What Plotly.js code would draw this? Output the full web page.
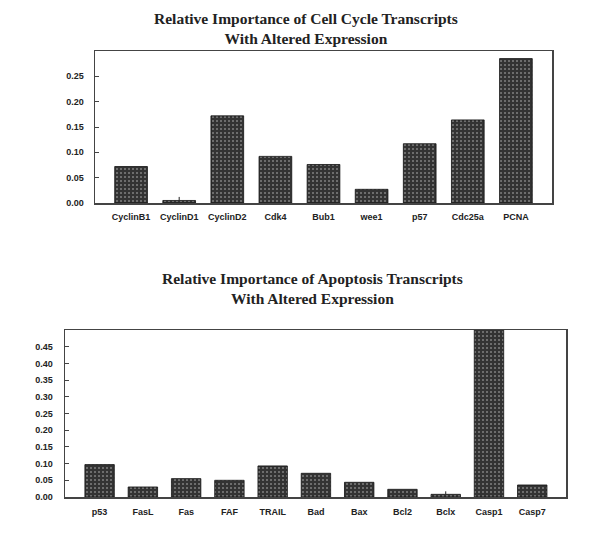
<!DOCTYPE html>
<html>
<head>
<meta charset="utf-8">
<script src="https://cdn.plot.ly/plotly-3.0.1.min.js"></script>
<style>html,body{margin:0;padding:0;background:#fff;}#chart{width:600px;height:548px;}</style>
</head>
<body>
<div id="chart"></div>
<script>
// Cell cycle transcripts
var cellCycleGenes = ["CyclinB1","CyclinD1","CyclinD2","Cdk4","Bub1","wee1","p57","Cdc25a","PCNA"];
var cellCycleValues = [0.072, 0.005, 0.172, 0.092, 0.076, 0.027, 0.117, 0.164, 0.285];
var cellCycleErr = [0, 0.007, 0, 0, 0, 0, 0, 0, 0];

// Apoptosis transcripts
var apoptosisGenes = ["p53","FasL","Fas","FAF","TRAIL","Bad","Bax","Bcl2","Bclx","Casp1","Casp7"];
var apoptosisValues = [0.097, 0.030, 0.055, 0.050, 0.093, 0.071, 0.044, 0.023, 0.008, 0.52, 0.036];
var apoptosisErr = [0, 0, 0, 0, 0, 0, 0, 0, 0.009, 0, 0];

var titleTop = "Relative Importance of Cell Cycle Transcripts<br>With Altered Expression";
var titleBottom = "Relative Importance of Apoptosis Transcripts<br>With Altered Expression";

var cellTicks = [0, 0.05, 0.10, 0.15, 0.20, 0.25];
var apopTicks = [0, 0.05, 0.10, 0.15, 0.20, 0.25, 0.30, 0.35, 0.40, 0.45];

var barMarker = {
  color: '#333',
  line: {color: '#111', width: 0.8},
  pattern: {shape: '.', bgcolor: '#333', fgcolor: '#808080', size: 4, solidity: 0.2, fillmode: 'replace'}
};

var traces = [
  {type: 'bar', x: cellCycleGenes, y: cellCycleValues, width: 0.68, marker: barMarker,
   error_y: {type: 'data', array: cellCycleErr, arrayminus: cellCycleErr.map(function(){return 0;}), symmetric: false, width: 0, thickness: 1, color: '#222'},
   xaxis: 'x', yaxis: 'y', hoverinfo: 'x+y', cliponaxis: true},
  {type: 'bar', x: apoptosisGenes, y: apoptosisValues, width: 0.68, marker: barMarker,
   error_y: {type: 'data', array: apoptosisErr, arrayminus: apoptosisErr.map(function(){return 0;}), symmetric: false, width: 0, thickness: 1, color: '#222'},
   xaxis: 'x2', yaxis: 'y2', hoverinfo: 'x+y', cliponaxis: true}
];

var tickFont = {family: 'Liberation Sans, Arial, sans-serif', size: 9, color: '#222', weight: 'bold'};
var titleFont = {family: 'Liberation Serif, Times New Roman, serif', size: 15.5, color: '#222', weight: 'bold'};

var layout = {
  width: 600, height: 548,
  margin: {l: 0, r: 0, t: 0, b: 0},
  paper_bgcolor: '#fff', plot_bgcolor: '#fff',
  showlegend: false,
  bargap: 0.3,
  xaxis: {domain: [95/600, 552/600], anchor: 'y', range: [-0.75, 8.75], showline: true, mirror: true,
          linecolor: '#444', linewidth: 1.5, ticks: '', showgrid: false, zeroline: false,
          tickfont: tickFont, ticklabelstandoff: 5},
  yaxis: {domain: [1 - 203/548, 1 - 51/548], anchor: 'x', range: [0, 0.30], showline: true, mirror: true,
          linecolor: '#444', linewidth: 1.5, ticks: 'inside', ticklen: 4, tickcolor: '#444',
          tickvals: cellTicks, tickformat: '.2f', showgrid: false, zeroline: false,
          tickfont: tickFont, ticklabelstandoff: 8},
  xaxis2: {domain: [65/600, 566/600], anchor: 'y2', range: [-0.8, 10.78], showline: true, mirror: true,
           linecolor: '#444', linewidth: 1.5, ticks: '', showgrid: false, zeroline: false,
           tickfont: tickFont, ticklabelstandoff: 6},
  yaxis2: {domain: [1 - 497/548, 1 - 330/548], anchor: 'x2', range: [0, 0.50], showline: true, mirror: true,
           linecolor: '#444', linewidth: 1.5, ticks: 'inside', ticklen: 4, tickcolor: '#444',
           tickvals: apopTicks, tickformat: '.2f', showgrid: false, zeroline: false,
           tickfont: tickFont, ticklabelstandoff: 9},
  annotations: [
    {text: titleTop, xref: 'paper', yref: 'paper', x: 306/600, y: 1 - 28/548, xanchor: 'center', yanchor: 'middle',
     showarrow: false, font: titleFont, align: 'center'},
    {text: titleBottom, xref: 'paper', yref: 'paper', x: 312/600, y: 1 - 288/548, xanchor: 'center', yanchor: 'middle',
     showarrow: false, font: titleFont, align: 'center'}
  ]
};

Plotly.newPlot('chart', traces, layout, {displayModeBar: false, staticPlot: true});
</script>
</body>
</html>
